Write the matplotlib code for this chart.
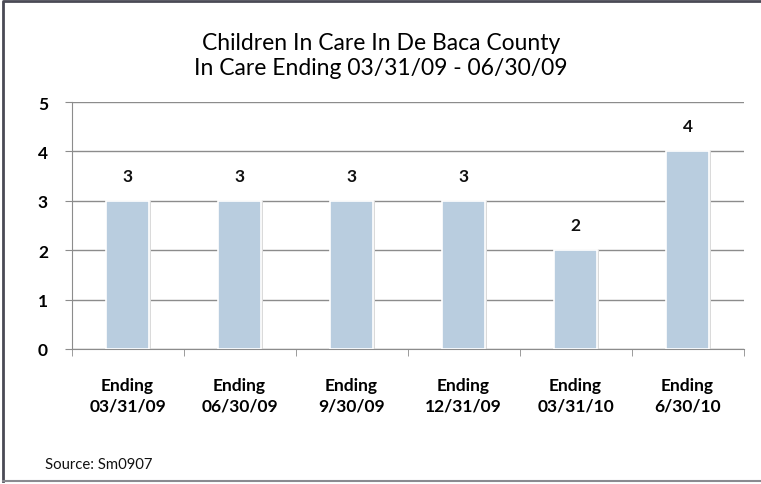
import matplotlib
matplotlib.use('Agg')
import matplotlib.pyplot as plt
from matplotlib.lines import Line2D
import numpy as np

# Data
categories = ['Ending\n03/31/09', 'Ending\n06/30/09', 'Ending\n9/30/09',
              'Ending\n12/31/09', 'Ending\n03/31/10', 'Ending\n6/30/10']
counts = [3, 3, 3, 3, 2, 4]
y_ticks = [0, 1, 2, 3, 4, 5]

plt.rcParams['font.family'] = ['Lato', 'DejaVu Sans']

W, H = 761, 485
fig = plt.figure(figsize=(W / 100, H / 100), dpi=100)

# outer border of the chart area (right side runs off the image)
L, T, B = 3 / W, 1 - 2 / H, 1 - 482 / H
fig.add_artist(Line2D([1, L, L], [T, T, B], transform=fig.transFigure, color='#4a4a55', linewidth=2.0))
fig.add_artist(Line2D([L, 1], [B, B], transform=fig.transFigure, color='#8a8a90', linewidth=1.5))

ax = fig.add_axes([71.5 / W, (H - 350) / H, 672 / W, 247 / H])
x = np.arange(len(categories))

# soft shadow then bars
ax.bar(x + 0.012, counts, width=0.40, color='#dadada', edgecolor='none', zorder=2)
ax.bar(x, counts, width=0.385, color='#b9cddf', edgecolor='white', linewidth=1.2, zorder=3)

for xi, v in zip(x, counts):
    ax.annotate(str(v), (xi, v), xytext=(0, 18), textcoords='offset points',
                ha='center', va='center', fontsize=12.5, fontweight='bold', color='#111111')

ax.set_xlim(-0.5, len(categories) - 0.5)
ax.set_ylim(0, 5)
ax.set_yticks(y_ticks)
ax.set_yticklabels([str(t) for t in y_ticks], fontsize=12.5, fontweight='bold')
ax.set_xticks(x)
ax.set_xticklabels(categories, fontsize=12.5, fontweight='bold', linespacing=1.35)
ax.set_xticks(np.arange(len(categories) + 1) - 0.5, minor=True)
ax.tick_params(axis='x', which='major', length=0, pad=20)
ax.tick_params(axis='x', which='minor', length=5, color='#8c8c8c')
ax.tick_params(axis='y', length=5, color='#8c8c8c', pad=12)

ax.grid(axis='y', color='#8c8c8c', linewidth=1.0, zorder=0)
ax.set_axisbelow(True)
for s in ['top', 'right']:
    ax.spines[s].set_visible(False)
for s in ['left', 'bottom']:
    ax.spines[s].set_color('#8c8c8c')

fig.text(381 / W, 1 - 43 / H, 'Children In Care In De Baca County', ha='center', va='center',
         fontsize=16.5, color='#000000')
fig.text(381 / W, 1 - 69 / H, 'In Care Ending 03/31/09 - 06/30/09', ha='center', va='center',
         fontsize=16.5, color='#000000')
fig.text(45 / W, 1 - 465 / H, 'Source: Sm0907', ha='left', va='center', fontsize=10.7, color='#111111')

fig.savefig('out.png', dpi=100)
